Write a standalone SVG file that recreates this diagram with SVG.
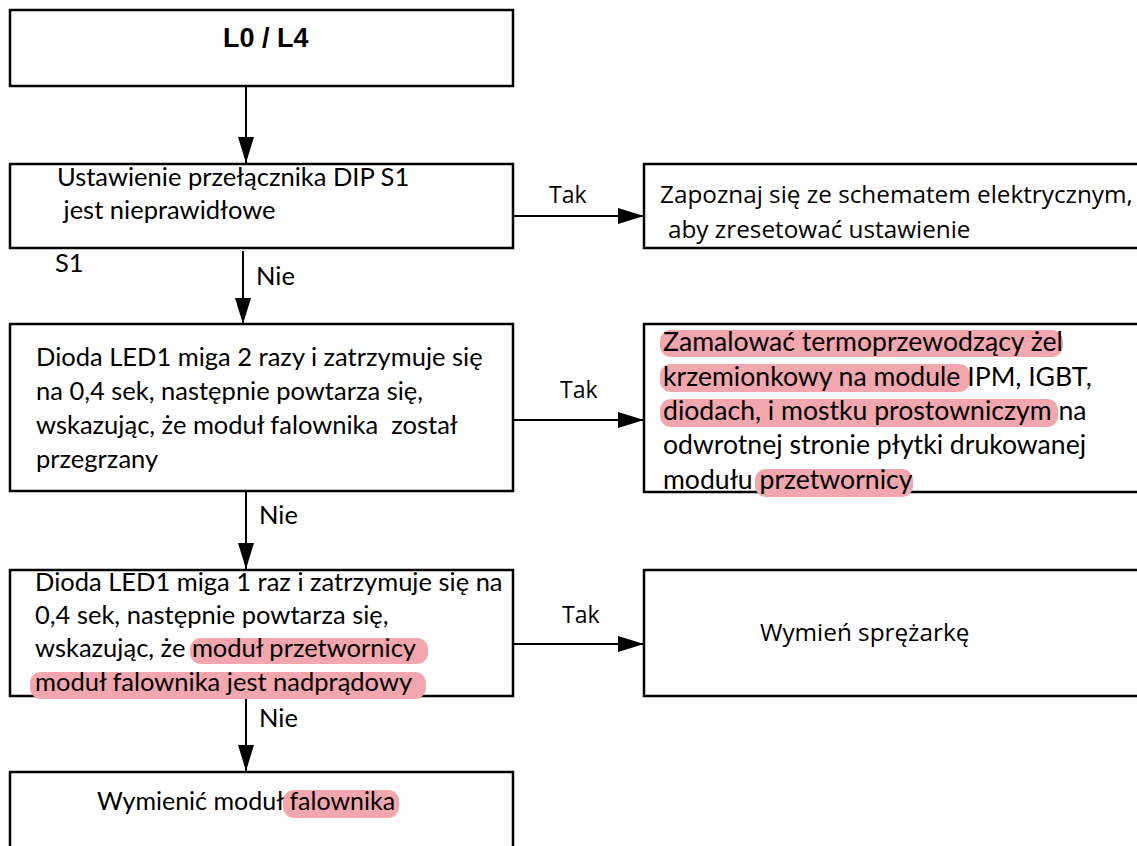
<svg xmlns="http://www.w3.org/2000/svg" width="1137" height="846" viewBox="0 0 1137 846">
  <defs>
    <marker id="arrow" markerWidth="26" markerHeight="16" refX="26" refY="8" orient="auto" markerUnits="userSpaceOnUse">
      <path d="M0,0 L26,8 L0,16 Z" fill="#000"/>
    </marker>
  </defs>
  <style>
    .box { fill: #fff; stroke: #000; stroke-width: 2.5; }
    .body { font-family: Lato, "Liberation Sans", sans-serif; font-size: 25.5px; fill: #000; white-space: pre; }
    .wide { font-size: 26.6px; }
    .label { font-family: "Open Sans", "Noto Sans", sans-serif; font-size: 23px; fill: #000; }
    .big { font-size: 24.3px; }
    .title { font-family: "Liberation Sans", Arial, sans-serif; font-size: 27px; font-weight: bold; fill: #000; }
    .hl { fill: #F2A6AE; }
    .conn { stroke: #000; stroke-width: 2; fill: none; }
  </style>
  <rect width="1137" height="846" fill="#fff"/>

  <!-- connectors -->
  <g id="connectors">
    <line class="conn" x1="246" y1="86" x2="246" y2="163" marker-end="url(#arrow)"/>
    <line class="conn" x1="243" y1="251" x2="243" y2="324" marker-end="url(#arrow)"/>
    <line class="conn" x1="246" y1="491" x2="246" y2="569" marker-end="url(#arrow)"/>
    <line class="conn" x1="246" y1="696" x2="246" y2="771" marker-end="url(#arrow)"/>
    <line class="conn" x1="513" y1="216" x2="644" y2="216" marker-end="url(#arrow)"/>
    <line class="conn" x1="513" y1="420" x2="644" y2="420" marker-end="url(#arrow)"/>
    <line class="conn" x1="513" y1="644" x2="644" y2="644" marker-end="url(#arrow)"/>
    <text class="label" x="549" y="203">Tak</text>
    <text class="label" x="560" y="398">Tak</text>
    <text class="label" x="562" y="623">Tak</text>
    <text class="body" x="256" y="285">Nie</text>
    <text class="body" x="259" y="524">Nie</text>
    <text class="body" x="259" y="727">Nie</text>
    <text class="body" x="55" y="272">S1</text>
  </g>

  <!-- start node -->
  <g id="n-start">
    <rect class="box" x="10" y="10" width="503" height="76"/>
    <text class="title" x="223" y="47">L0 / L4</text>
  </g>

  <!-- DIP switch check -->
  <g id="n-dip">
    <rect class="box" x="10" y="164" width="503" height="84"/>
    <text class="body" x="57" y="186">Ustawienie przełącznika DIP S1</text>
    <text class="body" x="57" y="219"> jest nieprawidłowe</text>
  </g>

  <g id="n-dip-fix">
    <rect class="box" x="644" y="164" width="510" height="84"/>
    <text class="label big" x="660" y="203">Zapoznaj się ze schematem elektrycznym,</text>
    <text class="label big" x="668" y="238">aby zresetować ustawienie</text>
  </g>

  <!-- overheat check -->
  <g id="n-overheat">
    <rect class="box" x="10" y="324" width="503" height="167"/>
    <text class="body" x="36" y="366">Dioda LED1 miga 2 razy i zatrzymuje się</text>
    <text class="body" x="36" y="400">na 0,4 sek, następnie powtarza się,</text>
    <text class="body" x="36" y="434">wskazując, że moduł falownika  został</text>
    <text class="body" x="36" y="468">przegrzany</text>
  </g>

  <g id="n-overheat-fix">
    <rect class="box" x="644" y="324" width="510" height="168"/>
    <rect class="hl" x="660" y="330" width="403" height="27" rx="11"/>
    <rect class="hl" x="660" y="364" width="310" height="28" rx="11"/>
    <rect class="hl" x="660" y="399" width="398" height="28" rx="11"/>
    <rect class="hl" x="755" y="469" width="158" height="28" rx="11"/>
    <text class="body wide" x="663" y="351">Zamalować termoprzewodzący żel</text>
    <text class="body wide" x="663" y="386">krzemionkowy na module IPM, IGBT,</text>
    <text class="body wide" x="663" y="420">diodach, i mostku prostowniczym na</text>
    <text class="body wide" x="663" y="454">odwrotnej stronie płytki drukowanej</text>
    <text class="body wide" x="663" y="489">modułu przetwornicy</text>
  </g>

  <!-- overcurrent check -->
  <g id="n-overcurrent">
    <rect class="box" x="10" y="570" width="503" height="126"/>
    <rect class="hl" x="190" y="638" width="238" height="26" rx="11"/>
    <rect class="hl" x="30" y="672" width="396" height="27" rx="11"/>
    <text class="body" x="35" y="591">Dioda LED1 miga 1 raz i zatrzymuje się na</text>
    <text class="body" x="35" y="624">0,4 sek, następnie powtarza się,</text>
    <text class="body" x="35" y="657">wskazując, że moduł przetwornicy</text>
    <text class="body" x="35" y="691">moduł falownika jest nadprądowy</text>
  </g>

  <g id="n-compressor">
    <rect class="box" x="644" y="570" width="510" height="126"/>
    <text class="label big" x="760" y="641">Wymień sprężarkę</text>
  </g>

  <!-- final action -->
  <g id="n-replace">
    <rect class="box" x="10" y="772" width="503" height="90"/>
    <rect class="hl" x="283" y="790" width="116" height="28" rx="11"/>
    <text class="body" x="97" y="810" style="font-size:25px">Wymienić moduł falownika</text>
  </g>
</svg>
